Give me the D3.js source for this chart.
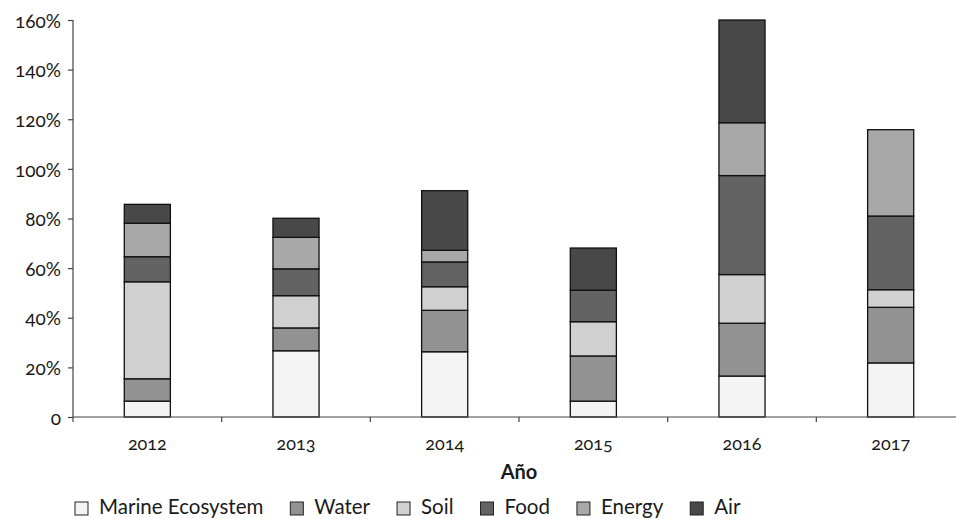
<!DOCTYPE html>
<html>
<head>
<meta charset="utf-8">
<script src="https://cdn.jsdelivr.net/npm/d3@7"></script>
<style>
  html, body { margin: 0; padding: 0; background: #fff; }
  svg { display: block; }
  text { font-family: Lato, "Open Sans", sans-serif; fill: #1a1a1a; }
  .num { font-variant-numeric: oldstyle-nums; font-feature-settings: "onum" 1; }
</style>
</head>
<body>
<svg id="chart" width="956" height="519"></svg>
<script>
// Years on the category axis
const years = ["2012", "2013", "2014", "2015", "2016", "2017"];

// Stacked series, in percent, bottom to top
const seriesNames = ["Marine Ecosystem", "Water", "Soil", "Food", "Energy", "Air"];
const marine = [6.4, 26.7, 26.3, 6.4, 16.5, 21.8];
const water  = [9.0, 9.2, 16.7, 18.2, 21.3, 22.4];
const soil   = [39.1, 13.0, 9.5, 13.8, 19.6, 7.1];
const food   = [10.1, 10.8, 10.0, 12.7, 39.9, 29.7];
const energy = [13.5, 12.7, 4.7, 0, 21.3, 34.8];
const air    = [7.6, 7.7, 24.0, 17.0, 41.4, 0];

// Value-axis ticks
const yTicks = [0, 20, 40, 60, 80, 100, 120, 140, 160];

const fills = ["#f4f4f4", "#929292", "#d0d0d0", "#636363", "#a8a8a8", "#484848"];

const seriesValues = [marine, water, soil, food, energy, air];
const rows = years.map((yr, i) => {
  const r = { year: yr };
  seriesNames.forEach((k, j) => { r[k] = seriesValues[j][i]; });
  return r;
});

const svg = d3.select("#chart");
const plotLeft = 73, plotRight = 965, plotTop = 20, plotBottom = 417;

const pad = 0.69;
const x = d3.scaleBand().domain(years).range([plotLeft, plotRight])
  .paddingInner(pad).paddingOuter(pad / 2);
const y = d3.scaleLinear().domain([0, 160]).range([plotBottom, plotTop]);
const color = d3.scaleOrdinal().domain(seriesNames).range(fills);

const stacked = d3.stack().keys(seriesNames)(rows);

// Bars
svg.append("g").selectAll("g").data(stacked).join("g")
  .attr("fill", d => color(d.key))
  .selectAll("rect").data(d => d.filter(s => s[1] - s[0] > 0)).join("rect")
  .attr("x", d => x(d.data.year))
  .attr("width", x.bandwidth())
  .attr("y", d => y(d[1]))
  .attr("height", d => y(d[0]) - y(d[1]))
  .attr("stroke", "#111")
  .attr("stroke-width", 1.3);

const axisColor = "#444";

// Y axis
const yAxis = svg.append("g").attr("transform", `translate(${plotLeft},0)`)
  .call(d3.axisLeft(y).tickValues(yTicks).tickSize(5).tickPadding(7)
    .tickFormat(d => d === 0 ? "0" : d + "%"));
yAxis.select(".domain").attr("stroke", axisColor).attr("stroke-width", 1.2)
  .attr("d", `M0,${plotTop}V${plotBottom}`);
yAxis.selectAll(".tick line").attr("stroke", axisColor).attr("stroke-width", 1.2);
yAxis.selectAll(".tick text").attr("class", "num")
  .style("font-size", "19px").attr("dy", "0.38em").attr("font-family", null);

// X axis: baseline with ticks between categories
const xg = svg.append("g");
xg.append("line").attr("x1", plotLeft).attr("x2", plotRight)
  .attr("y1", plotBottom).attr("y2", plotBottom)
  .attr("stroke", axisColor).attr("stroke-width", 1.2);
const boundaries = d3.range(years.length + 1).map(i => plotLeft + i * x.step());
xg.selectAll("line.t").data(boundaries).join("line").attr("class", "t")
  .attr("x1", d => d).attr("x2", d => d).attr("y1", plotBottom).attr("y2", plotBottom + 5)
  .attr("stroke", axisColor).attr("stroke-width", 1.2);
xg.selectAll("text").data(years).join("text")
  .attr("class", "num")
  .attr("x", d => x(d) + x.bandwidth() / 2)
  .attr("y", 450)
  .attr("text-anchor", "middle")
  .style("font-size", "18px")
  .text(d => d);

// Axis title
svg.append("text")
  .attr("x", (plotLeft + plotRight) / 2).attr("y", 479)
  .attr("text-anchor", "middle")
  .style("font-size", "20px").style("font-weight", "bold")
  .text("Año");

// Legend, laid out left to right
const legend = svg.append("g");
let lx = 75;
seriesNames.forEach((name, i) => {
  legend.append("rect")
    .attr("x", lx).attr("y", 502).attr("width", 13).attr("height", 13)
    .attr("fill", fills[i]).attr("stroke", "#222").attr("stroke-width", 1);
  const t = legend.append("text")
    .attr("x", lx + 24).attr("y", 514)
    .style("font-size", "20.5px")
    .text(name);
  lx = lx + 24 + t.node().getComputedTextLength() + 27;
});
</script>
</body>
</html>
